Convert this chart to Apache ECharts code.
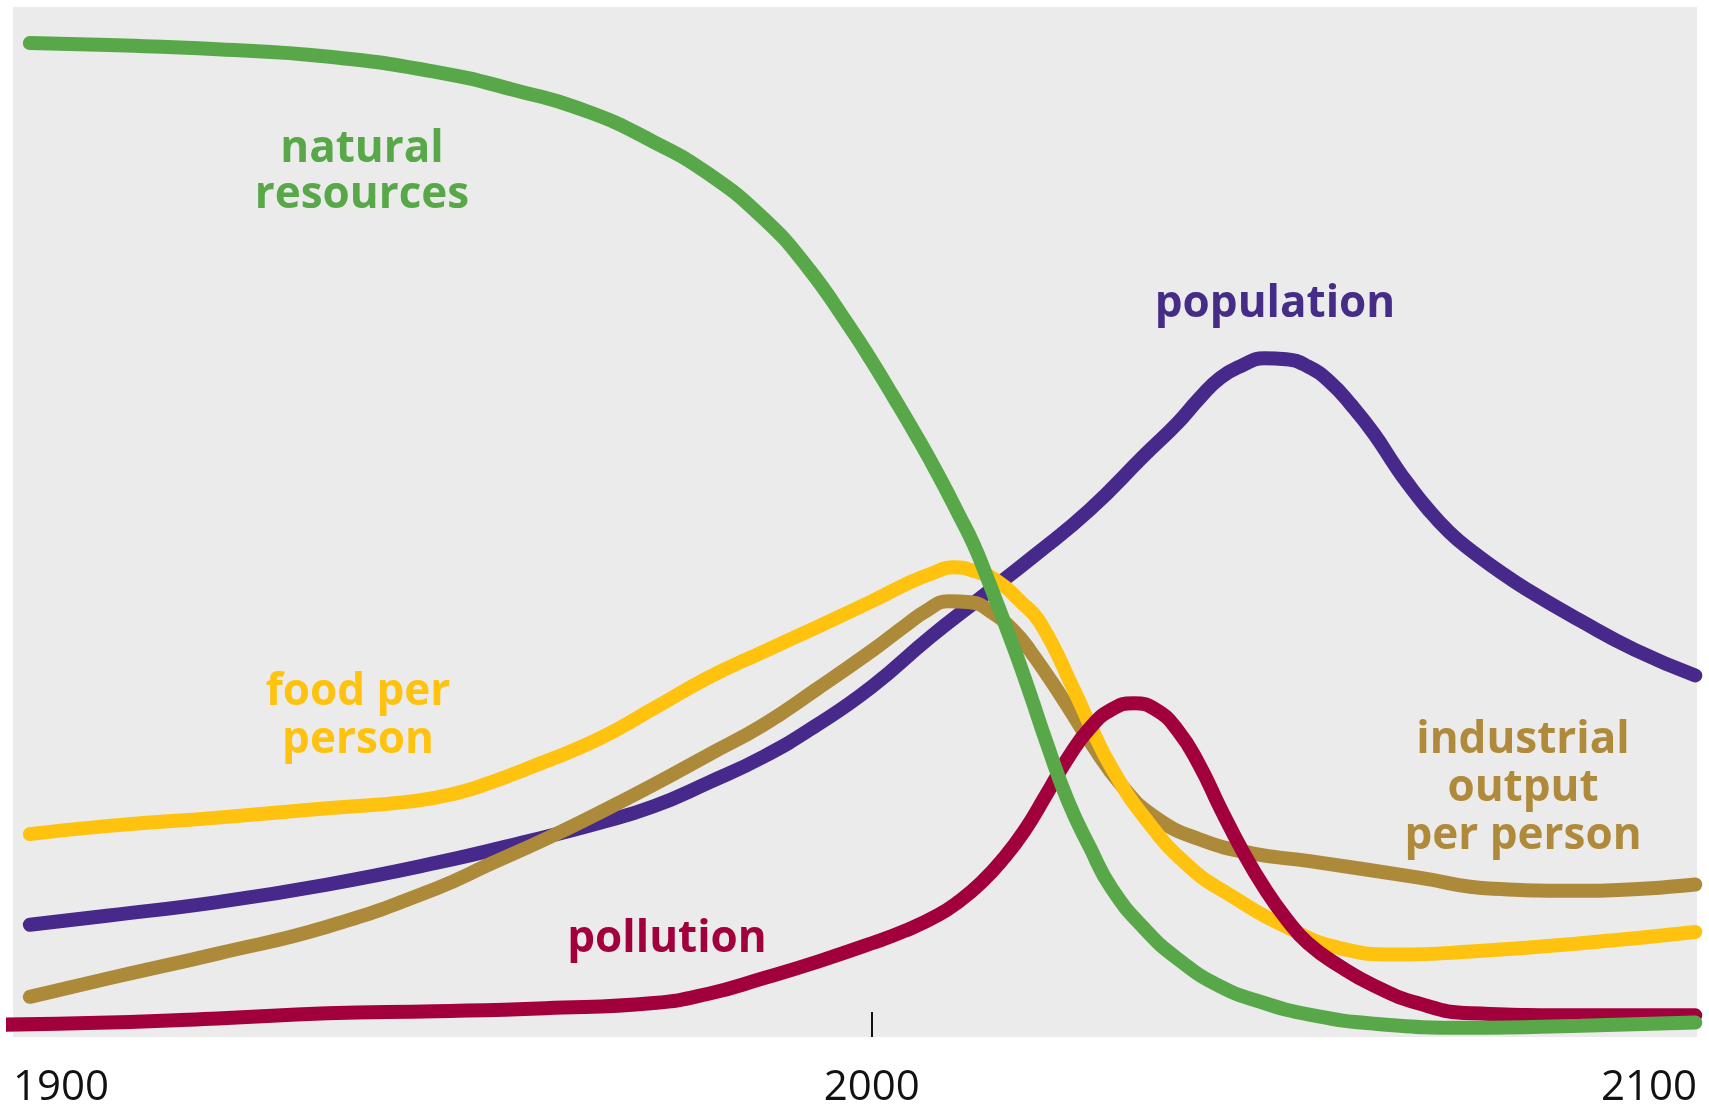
<!DOCTYPE html>
<html><head><meta charset="utf-8">
<script src="https://cdn.jsdelivr.net/npm/echarts@6/dist/echarts.min.js"></script>
<style>html,body{margin:0;padding:0;background:#fff}#c{width:1709px;height:1107px}</style>
</head><body><div id="c"></div>
<script>
// x-axis labels (the first/last are placed at the plot edges, as in the original)
const tickLabels = ['1900', '2000', '2100'];
const labelYears = [1898, 2000, 2098];
const tickYears = [2000];

// natural resources
const resourcesYears = [1900, 1909.4, 1922.3, 1935.3, 1948.2, 1957.3, 1966.4, 1974.1, 1980.6, 1987.1, 1992.3, 1997.4, 2000.0, 2002.6, 2005.2, 2007.8, 2010.4, 2012.1, 2013.6, 2016.9, 2018.8, 2020.7, 2023.3, 2025.9, 2028.5, 2032.4, 2036.3, 2041.4, 2046.6, 2051.8, 2059.6, 2071.2, 2084.2, 2097.8];
const resourcesValues = [96.5, 96.3, 95.9, 95.2, 93.7, 92.0, 89.8, 86.9, 83.8, 79.5, 74.8, 68.9, 65.6, 62.1, 58.5, 54.7, 50.6, 47.8, 44.8, 37.7, 33.3, 28.7, 22.9, 18.4, 14.4, 10.5, 7.6, 4.9, 3.3, 2.2, 1.3, 0.9, 1.1, 1.4];

// population
const populationYears = [1900, 1909.4, 1922.3, 1935.3, 1948.2, 1958.6, 1967.7, 1974.1, 1980.6, 1987.1, 1993.5, 2000.0, 2006.9, 2013.0, 2019.4, 2025.9, 2032.4, 2036.3, 2038.9, 2041.4, 2044.0, 2046.6, 2049.2, 2051.8, 2054.4, 2057.0, 2059.6, 2062.2, 2063.5, 2066.0, 2068.6, 2071.2, 2074.4, 2077.7, 2084.2, 2090.6, 2097.8];
const populationValues = [10.9, 11.8, 13.1, 14.8, 16.9, 18.9, 20.8, 22.4, 24.7, 27.2, 30.3, 34.0, 38.8, 42.7, 46.8, 51.2, 56.5, 59.6, 62.0, 64.0, 65.2, 65.9, 65.8, 65.1, 63.6, 61.3, 58.6, 55.4, 53.9, 51.3, 49.0, 47.2, 45.3, 43.5, 40.4, 37.6, 35.1];

// food per person
const foodYears = [1900, 1909.4, 1922.3, 1935.3, 1945.6, 1950.8, 1954.7, 1958.6, 1967.7, 1974.1, 1980.6, 1987.1, 1993.5, 2000.0, 2003.9, 2007.1, 2009.7, 2012.3, 2015.0, 2017.5, 2020.0, 2024.0, 2025.9, 2028.5, 2032.4, 2037.6, 2042.7, 2049.2, 2055.7, 2062.2, 2071.2, 2084.2, 2097.8];
const foodValues = [19.7, 20.5, 21.3, 22.2, 22.9, 23.7, 24.7, 25.9, 29.0, 31.9, 34.9, 37.4, 39.8, 42.3, 43.9, 45.0, 45.6, 45.2, 44.2, 42.4, 40.2, 33.7, 30.3, 26.1, 21.3, 16.6, 13.7, 10.7, 8.6, 8.0, 8.3, 9.1, 10.2];

// industrial output per person
const industryYears = [1900, 1909.4, 1922.3, 1935.3, 1948.2, 1954.7, 1961.2, 1967.7, 1974.1, 1980.6, 1987.1, 1993.5, 2000.0, 2003.9, 2006.5, 2009.1, 2011.7, 2014.3, 2016.9, 2018.8, 2022.4, 2025.9, 2029.8, 2033.7, 2038.9, 2045.3, 2051.8, 2064.8, 2073.8, 2084.2, 2097.8];
const industryValues = [3.9, 5.7, 8.1, 10.7, 14.4, 16.8, 19.2, 21.8, 24.5, 27.4, 30.3, 33.8, 37.5, 39.9, 41.4, 42.3, 42.2, 41.2, 39.4, 37.5, 33.2, 28.7, 24.3, 21.3, 19.2, 17.8, 17.1, 15.5, 14.4, 14.2, 14.8];

// pollution
const pollutionYears = [1897.0, 1909.4, 1922.3, 1935.3, 1948.2, 1961.2, 1974.1, 1980.6, 1987.1, 1993.5, 2000.0, 2003.9, 2007.8, 2010.4, 2013.0, 2015.6, 2018.1, 2020.7, 2023.3, 2025.9, 2028.5, 2031.1, 2033.7, 2036.3, 2038.9, 2041.4, 2044.0, 2046.6, 2049.2, 2051.8, 2055.7, 2059.6, 2064.8, 2071.2, 2084.2, 2097.8];
const pollutionValues = [1.2, 1.4, 1.8, 2.3, 2.5, 2.8, 3.3, 4.2, 5.7, 7.3, 9.1, 10.3, 11.8, 13.2, 15.0, 17.3, 20.0, 23.5, 27.1, 30.0, 31.8, 32.4, 31.8, 29.8, 26.4, 22.2, 18.1, 14.5, 11.5, 9.1, 6.8, 5.0, 3.3, 2.3, 2.1, 2.1];

const COLORS = {
  resources: '#58a84a',
  population: '#46298a',
  food: '#ffc20e',
  industry: '#ac8a3a',
  pollution: '#a2003c'
};

function pts(xs, ys) { return xs.map((x, i) => [x, ys[i]]); }

function lineSeries(name, xs, ys, color, z) {
  return {
    name: name, type: 'line', data: pts(xs, ys), smooth: 0.5,
    showSymbol: false, clip: false, z: z, animation: false,
    lineStyle: { color: color, width: 14, cap: 'round', join: 'round' }
  };
}

const FONT = '"Open Sans", "Noto Sans", sans-serif';
function label(text, x, y, color, lh) {
  return {
    type: 'text', x: x, y: y, z: 100,
    style: {
      text: text, fill: color, align: 'center', verticalAlign: 'middle',
      font: 'bold 44px ' + FONT, lineHeight: lh
    }
  };
}

const chart = echarts.init(document.getElementById('c'), null, { renderer: 'canvas' });
chart.setOption({
  animation: false,
  backgroundColor: '#ffffff',
  grid: {
    left: 13, right: 12, top: 7, bottom: 70, show: true, backgroundColor: '#ebebeb', borderWidth: 0,
    containLabel: false, outerBoundsMode: 'none'
  },
  xAxis: {
    type: 'value', min: 1898, max: 2098,
    axisLine: { show: false }, splitLine: { show: false },
    axisTick: { show: true, inside: true, length: 25, customValues: tickYears, lineStyle: { color: '#111', width: 2 } },
    axisLabel: {
      customValues: labelYears,
      formatter: function (v) { const i = labelYears.indexOf(v); return i >= 0 ? tickLabels[i] : ''; },
      alignMinLabel: 'left', alignMaxLabel: 'right',
      margin: 30, fontSize: 42, fontFamily: FONT, color: '#111'
    }
  },
  yAxis: { type: 'value', min: 0, max: 100, show: false },
  series: [
    lineSeries('population', populationYears, populationValues, COLORS.population, 2),
    lineSeries('industrial output per person', industryYears, industryValues, COLORS.industry, 3),
    lineSeries('food per person', foodYears, foodValues, COLORS.food, 4),
    lineSeries('pollution', pollutionYears, pollutionValues, COLORS.pollution, 5),
    lineSeries('natural resources', resourcesYears, resourcesValues, COLORS.resources, 6)
  ],
  graphic: [
    label('natural\nresources', 362, 172, COLORS.resources, 46),
    label('population', 1275, 304, '#452c86', 44),
    label('food per\nperson', 358, 716, COLORS.food, 48),
    label('industrial\noutput\nper person', 1523, 788, '#ae8a3a', 48),
    label('pollution', 667, 939, COLORS.pollution, 44)
  ]
});
</script>
</body></html>
